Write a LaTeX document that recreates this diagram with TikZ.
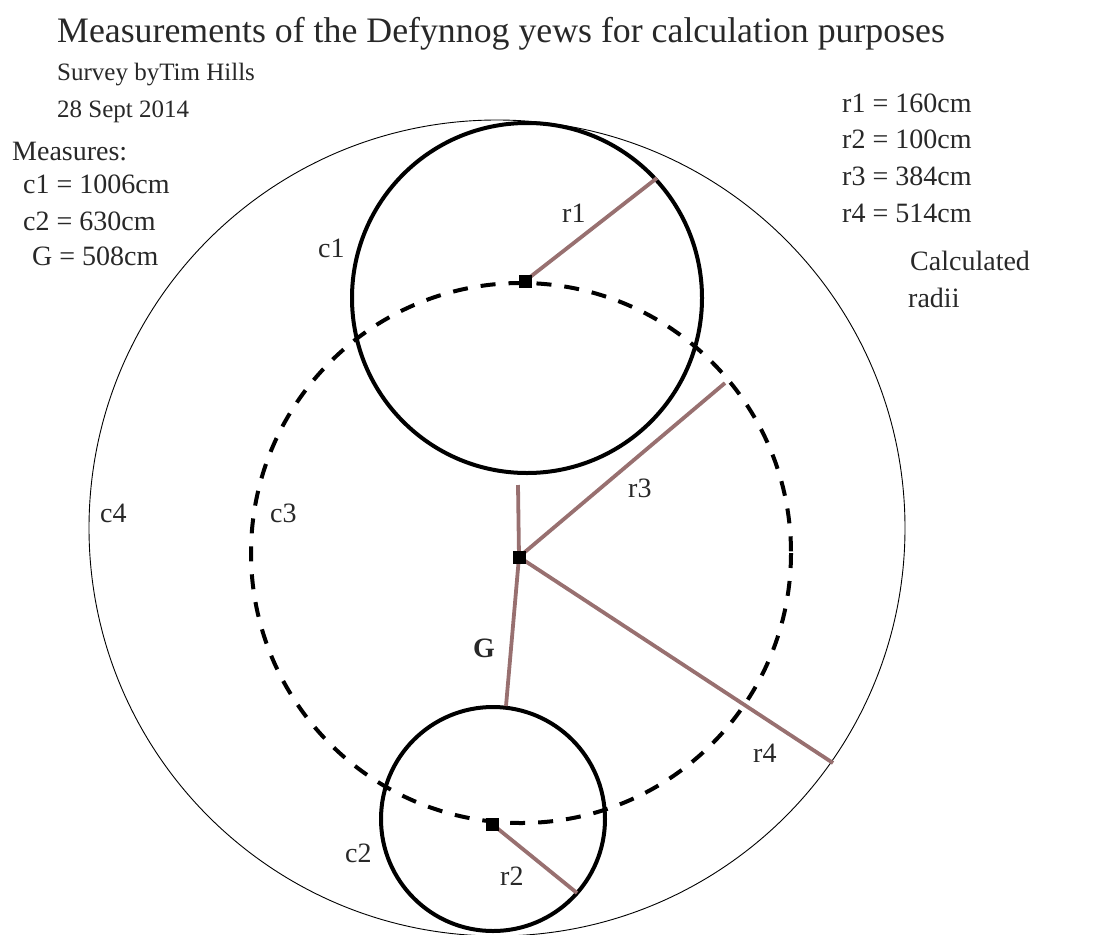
\documentclass[tikz,border=0pt]{standalone}
\usepackage{fontspec}
\setmainfont{Liberation Serif}
\definecolor{radline}{RGB}{152,112,112}
\definecolor{inkgray}{RGB}{40,40,40}
\begin{document}
\begin{tikzpicture}[x=1pt,y=-1pt,
  yew/.style={draw=black, line width=4pt},
  ring/.style={draw=black, line width=4pt, dash pattern=on 15pt off 13pt},
  outer/.style={draw=black, line width=0.9pt},
  radline/.style={draw=radline, line width=3.8pt},
  centre/.style={fill=black, minimum size=13pt, inner sep=0pt},
  txt/.style={text=inkgray, inner sep=0pt, anchor=base west, font=\fontsize{28}{32}\selectfont},
  small/.style={txt, font=\fontsize{25}{30}\selectfont},
  big/.style={txt, font=\fontsize{35.8}{40}\selectfont}]
\useasboundingbox (0,0) rectangle (1115,934);
\coordinate (o4) at (497,528);
\coordinate (o1) at (527,298);
\coordinate (o2) at (493,819);
\coordinate (o3) at (521,553);
\draw[outer] (o4) circle[radius=408];
\draw[ring] (o3) circle[radius=270];
\draw[yew] (o1) circle[radius=175];
\draw[yew] (o2) circle[radius=112];
\node[centre] (cen1) at (525,281) {};
\node[centre] (cenG) at (519,557) {};
\node[centre] (cen2) at (492,824) {};
\coordinate (r1end) at (657,178);
\coordinate (r2end) at (577,893);
\coordinate (r3end) at (725,383);
\coordinate (r4end) at (833,763);
\coordinate (gtop) at (518,485);
\coordinate (gbot) at (506,706);
\draw[radline] (cen1.center) -- (r1end);
\draw[radline] (cen2.center) -- (r2end);
\draw[radline] (cenG.center) -- (r3end);
\draw[radline] (cenG.center) -- (r4end);
\draw[radline] (gtop) -- (cenG.center) -- (gbot);
\node[centre] at (cen1) {};
\node[centre] at (cenG) {};
\node[centre] at (cen2) {};
\node[big] (title) at (57,42) {Measurements of the Defynnog yews for calculation purposes};
\node[small] (survey) at (57,80) {Survey byTim Hills};
\node[small] (date) at (57,117) {28 Sept 2014};
\node[txt] (measures) at (12,160) {Measures:};
\node[txt] (mc1) at (23,193) {c1 = 1006cm};
\node[txt] (mc2) at (23,230) {c2 = 630cm};
\node[txt] (mg) at (32,265) {G = 508cm};
\node[txt] (rr1) at (842,112) {r1 = 160cm};
\node[txt] (rr2) at (842,148) {r2 = 100cm};
\node[txt] (rr3) at (842,185) {r3 = 384cm};
\node[txt] (rr4) at (842,222) {r4 = 514cm};
\node[txt] (calc) at (910,270) {Calculated};
\node[txt] (radii) at (908,307) {radii};
\node[txt] (lc1) at (318,257) {c1};
\node[txt] (lc2) at (345,862) {c2};
\node[txt] (lc3) at (270,522) {c3};
\node[txt] (lc4) at (100,522) {c4};
\node[txt] (lr1) at (562,222) {r1};
\node[txt] (lr2) at (500,885) {r2};
\node[txt] (lr3) at (628,497) {r3};
\node[txt] (lr4) at (753,762) {r4};
\node[txt, font=\fontsize{28}{32}\selectfont\bfseries] (lg) at (473,657) {G};
\end{tikzpicture}
\end{document}
